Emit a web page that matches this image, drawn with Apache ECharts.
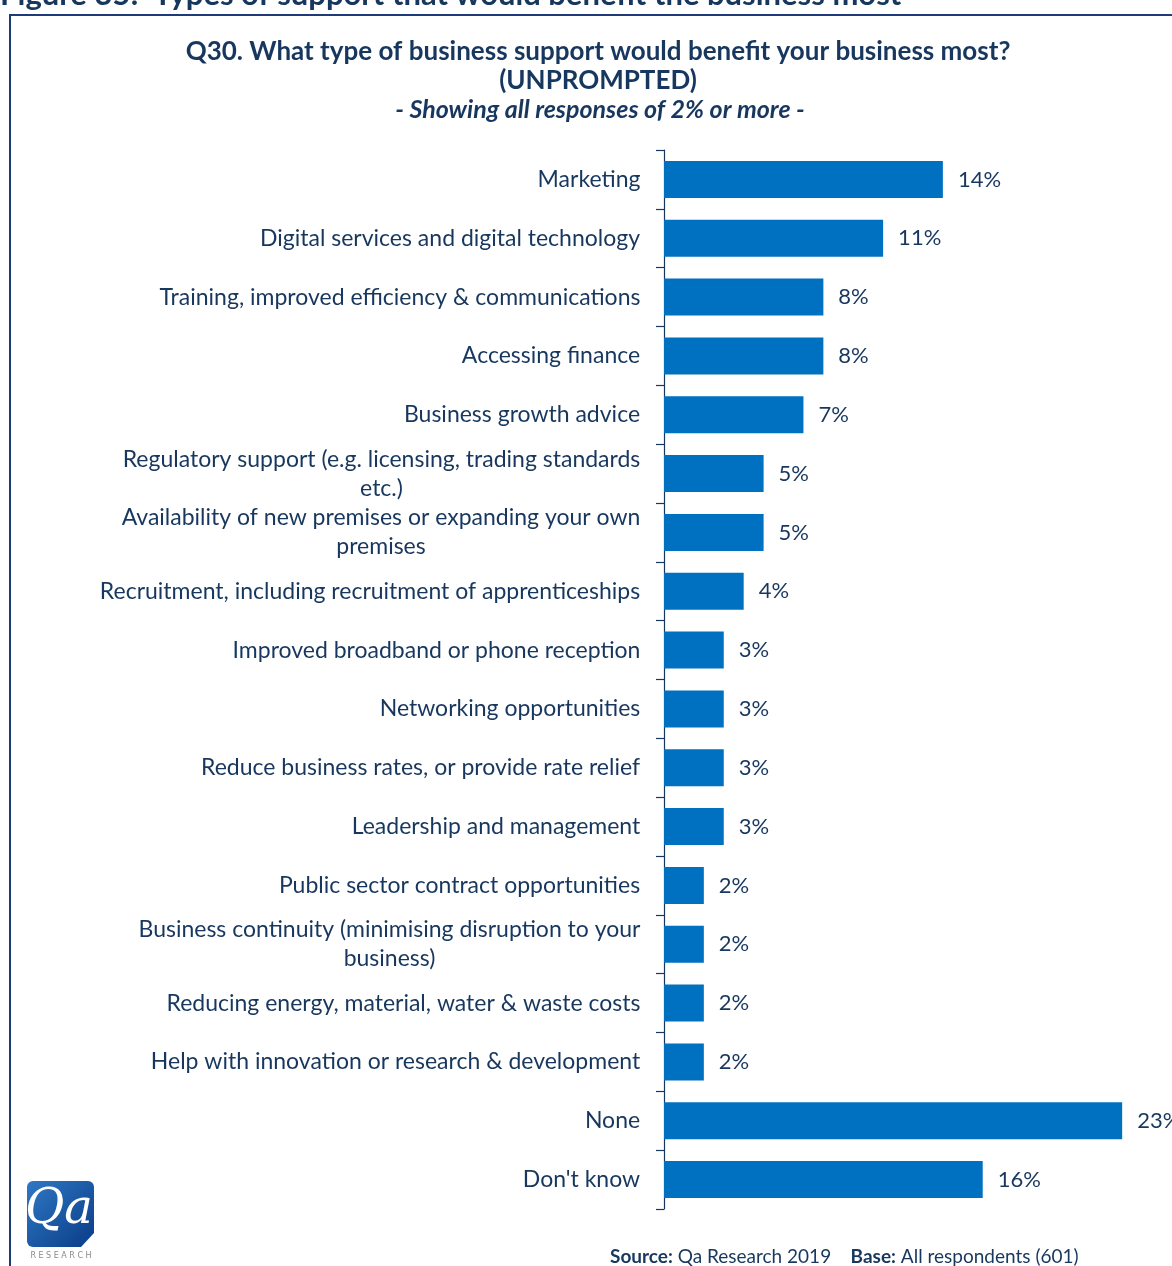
<!DOCTYPE html>
<html>
<head>
<meta charset="utf-8">
<script src="https://cdn.jsdelivr.net/npm/echarts@6/dist/echarts.min.js"></script>
<style>
  html, body { margin: 0; padding: 0; background: #fff; }
  #chart { width: 1172px; height: 1266px; }
</style>
</head>
<body>
<div id="chart"></div>
<script>
// Survey responses, Q30 (unprompted), percentage of respondents
const categories = [
  'Marketing',
  'Digital services and digital technology',
  'Training, improved efficiency & communications',
  'Accessing finance',
  'Business growth advice',
  'Regulatory support (e.g. licensing, trading standards\netc.)',
  'Availability of new premises or expanding your own\npremises',
  'Recruitment, including recruitment of apprenticeships',
  'Improved broadband or phone reception',
  'Networking opportunities',
  'Reduce business rates, or provide rate relief',
  'Leadership and management',
  'Public sector contract opportunities',
  'Business continuity (minimising disruption to your\nbusiness)',
  'Reducing energy, material, water & waste costs',
  'Help with innovation or research & development',
  'None',
  "Don't know"
];
const values = [14, 11, 8, 8, 7, 5, 5, 4, 3, 3, 3, 3, 2, 2, 2, 2, 23, 16];

const NAVY = '#17375e';
const BAR = '#0070c0';
const FONT = 'Lato, "Open Sans", sans-serif';
const LABEL_SIZE = 23;

// Multi-line category labels are centred within their own block,
// so each label gets a rich style as wide as its longest line.
const measureCtx = document.createElement('canvas').getContext('2d');
measureCtx.font = LABEL_SIZE + 'px ' + FONT;
const rich = {};
categories.forEach((c, i) => {
  const w = Math.max(...c.split('\n').map(s => measureCtx.measureText(s).width));
  rich['l' + i] = {
    width: Math.ceil(w) + 1,
    align: 'center',
    fontSize: LABEL_SIZE,
    fontFamily: FONT,
    color: NAVY,
    lineHeight: 29
  };
});

const chart = echarts.init(document.getElementById('chart'), null, { renderer: 'canvas' });

chart.setOption({
  backgroundColor: '#ffffff',
  animation: false,
  grid: { left: 664, top: 150, width: 498, height: 1059, containLabel: false },
  xAxis: {
    type: 'value',
    min: 0,
    max: 25,
    show: false
  },
  yAxis: {
    type: 'category',
    inverse: true,
    data: categories,
    axisLine: { show: true, lineStyle: { color: NAVY, width: 1.2 } },
    axisTick: { show: true, length: 8, lineStyle: { color: NAVY, width: 1.2 } },
    axisLabel: {
      margin: 23,
      align: 'right',
      formatter: (val, idx) => val.split('\n').map(s => '{l' + idx + '|' + s + '}').join('\n'),
      rich: rich
    },
    splitLine: { show: false }
  },
  series: [{
    type: 'bar',
    data: values,
    barWidth: 37,
    itemStyle: { color: BAR },
    label: {
      show: true,
      position: 'right',
      distance: 15,
      formatter: p => p.value + '%',
      color: NAVY,
      fontSize: 22,
      fontFamily: FONT
    }
  }],
  graphic: [
    // figure heading (runs off the top edge of the page)
    {
      type: 'text', left: 0, top: -21,
      style: { text: 'Figure 35:  Types of support that would benefit the business most',
        font: 'bold 31px ' + FONT, fill: NAVY }
    },
    // frame around the chart
    {
      type: 'polyline',
      shape: { points: [[10, 1266], [10, 15], [1172, 15]] },
      style: { stroke: '#1f3a78', lineWidth: 2, fill: null }
    },
    // chart title
    {
      type: 'text', x: 598, y: 52,
      style: { text: 'Q30. What type of business support would benefit your business most?',
        font: 'bold 26px ' + FONT, fill: NAVY, align: 'center', verticalAlign: 'middle' }
    },
    {
      type: 'text', x: 598, y: 81,
      style: { text: '(UNPROMPTED)',
        font: 'bold 26px ' + FONT, fill: NAVY, align: 'center', verticalAlign: 'middle' }
    },
    {
      type: 'text', x: 600, y: 110,
      style: { text: '- Showing all responses of 2% or more -',
        font: 'italic bold 25px ' + FONT, fill: NAVY, align: 'center', verticalAlign: 'middle' }
    },
    // source and base note
    {
      type: 'text', x: 610, y: 1257,
      style: {
        text: '{b|Source:} Qa Research 2019    {b|Base:} All respondents (601)',
        font: '19px ' + FONT, fill: NAVY, verticalAlign: 'middle',
        rich: { b: { fontWeight: 'bold', fontSize: 19, fontFamily: FONT, fill: NAVY } }
      }
    },
    // Qa Research logo
    {
      type: 'group', x: 27, y: 1181,
      children: [
        {
          type: 'rect', shape: { x: 0, y: 0, width: 67, height: 66, r: 6 },
          style: {
            fill: new echarts.graphic.LinearGradient(0, 0, 1, 1, [
              { offset: 0, color: '#2f78c4' },
              { offset: 1, color: '#0a3c86' }
            ])
          }
        },
        {
          type: 'polygon', shape: { points: [[54, 66], [67, 52], [67, 66]] },
          style: { fill: '#ffffff' }
        },
        {
          type: 'text', x: 32, y: 30,
          style: { text: 'Qa', font: 'italic 48px "DejaVu Serif", serif', fill: '#ffffff',
            align: 'center', verticalAlign: 'middle' }
        },
        {
          type: 'text', x: 34, y: 75,
          style: { text: 'R E S E A R C H', font: '8px "DejaVu Sans", sans-serif', fill: '#8a8a8a',
            align: 'center', verticalAlign: 'middle' }
        }
      ]
    }
  ]
});
</script>
</body>
</html>
